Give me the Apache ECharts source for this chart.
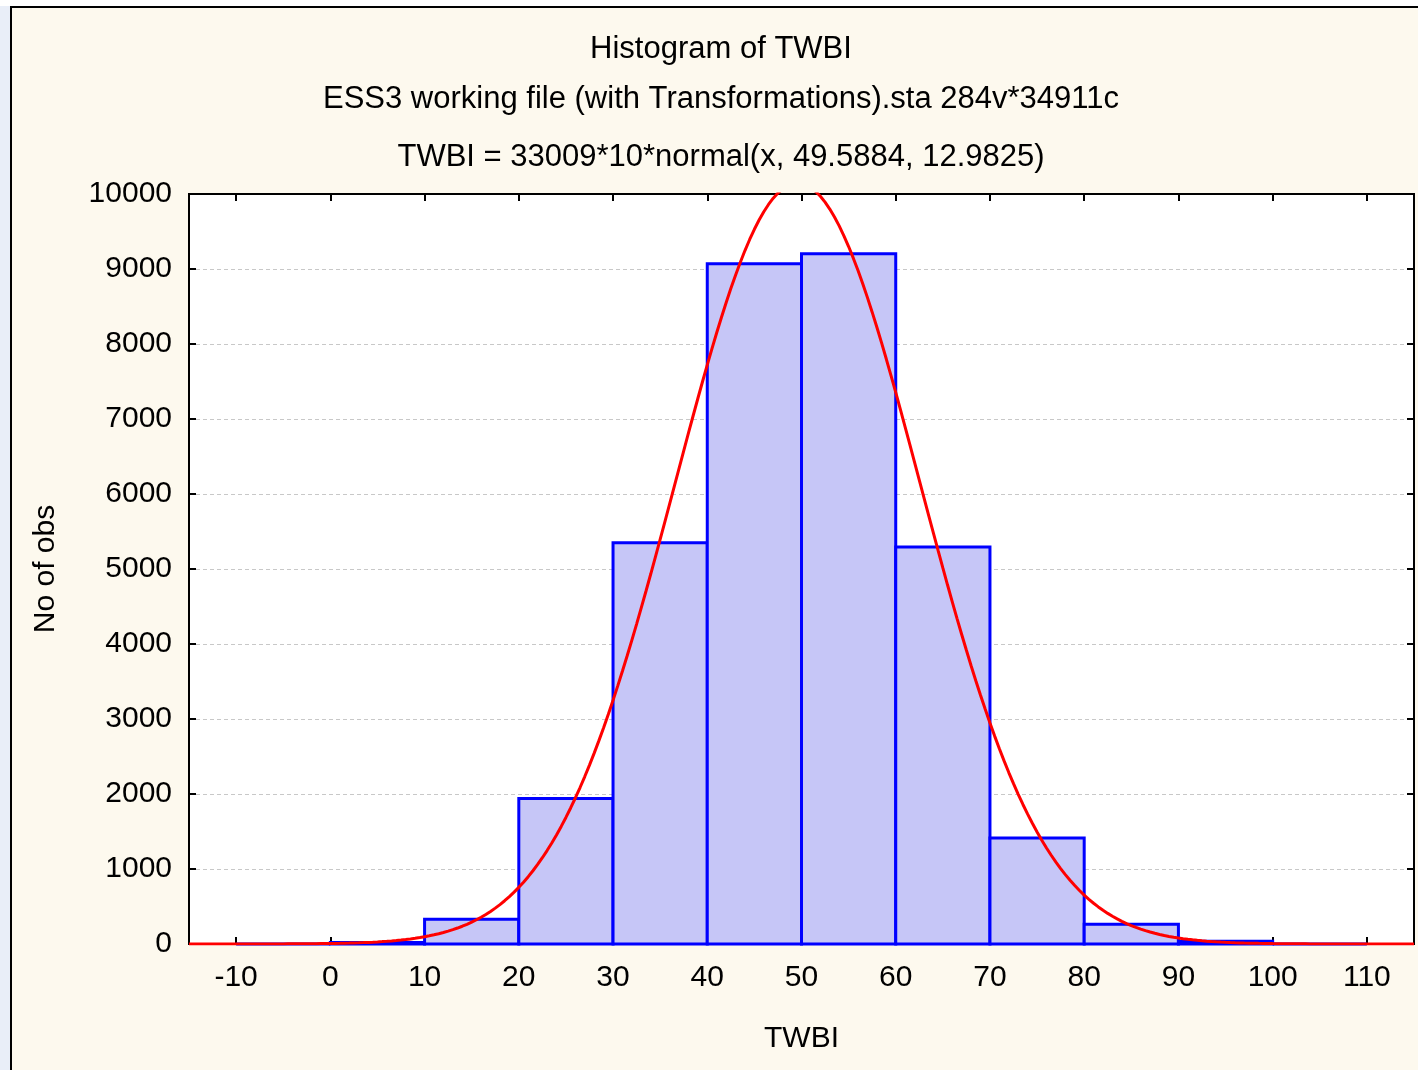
<!DOCTYPE html>
<html>
<head>
<meta charset="utf-8">
<script src="https://cdn.jsdelivr.net/npm/echarts@6/dist/echarts.min.js"></script>
<style>
html,body{margin:0;padding:0;background:#ffffff;}
#chart{width:1418px;height:1070px;}
</style>
</head>
<body>
<div id="chart"></div>
<script>
// ---- Data ----
var binStarts = [-10, 0, 10, 20, 30, 40, 50, 60, 70, 80, 90, 100];
var binEnds   = [0, 10, 20, 30, 40, 50, 60, 70, 80, 90, 100, 110];
var binCounts = [0, 20, 330, 1940, 5350, 9070, 9205, 5295, 1415, 265, 38, 0];
var xTickValues = [-10, 0, 10, 20, 30, 40, 50, 60, 70, 80, 90, 100, 110];
var yTickValues = [0, 1000, 2000, 3000, 4000, 5000, 6000, 7000, 8000, 9000, 10000];
var titleLines = [
  'Histogram of TWBI',
  'ESS3 working file (with Transformations).sta 284v*34911c',
  'TWBI = 33009*10*normal(x, 49.5884, 12.9825)'
];
// fitted normal curve parameters, as stated in the chart title
var fitN = 33009, fitBinWidth = 10, fitMean = 49.5884, fitSd = 12.9825;

var histData = binStarts.map(function(s, i){ return [s, binEnds[i], binCounts[i]]; });
var curveData = [];
for (var x = -15; x <= 115.0001; x += 0.5) {
  var z = (x - fitMean) / fitSd;
  curveData.push([x, fitN * fitBinWidth * Math.exp(-0.5 * z * z) / (fitSd * Math.sqrt(2 * Math.PI))]);
}

var FONT = '"Liberation Sans", Arial, sans-serif';
var chart = echarts.init(document.getElementById('chart'), null, {renderer: 'canvas'});
var titleY = [47, 97, 155];

var tickStyle = {show: true, inside: true, length: 7, lineStyle: {color: '#000', width: 2}};

var option = {
  backgroundColor: '#fdf9ee',
  animation: false,
  title: titleLines.map(function(t, i){
    return {text: t, left: 721, top: titleY[i] - 15, padding: 0, textAlign: 'center',
      textStyle: {fontFamily: FONT, fontSize: 31, fontWeight: 'normal', color: '#000', lineHeight: 34}};
  }),
  graphic: [
    {type: 'rect', shape: {x: 0, y: 0, width: 10, height: 1070}, style: {fill: '#e9eef8'}, silent: true},
    {type: 'rect', shape: {x: 0, y: 0, width: 1418, height: 6}, style: {fill: '#ffffff'}, silent: true},
    {type: 'polyline', shape: {points: [[11, 1070], [11, 7], [1418, 7]]}, style: {stroke: '#000', lineWidth: 2, fill: null}, silent: true}
  ],
  grid: {left: 189, top: 194, right: 4, bottom: 126, show: true, backgroundColor: '#ffffff', borderColor: '#000', borderWidth: 2, containLabel: false},
  xAxis: [
    {
      type: 'value', min: -15, max: 115, position: 'bottom',
      name: 'TWBI', nameLocation: 'middle', nameGap: 80,
      nameTextStyle: {fontFamily: FONT, fontSize: 30, color: '#000'},
      axisLine: {show: true, onZero: false, lineStyle: {color: '#000', width: 2}},
      axisTick: Object.assign({customValues: xTickValues}, tickStyle),
      axisLabel: {customValues: xTickValues, margin: 19, fontFamily: FONT, fontSize: 30, color: '#000'},
      splitLine: {show: false}
    },
    {
      type: 'value', min: -15, max: 115, position: 'top',
      axisLine: {show: true, onZero: false, lineStyle: {color: '#000', width: 2}},
      axisTick: Object.assign({customValues: xTickValues}, tickStyle),
      axisLabel: {show: false},
      splitLine: {show: false}
    }
  ],
  yAxis: [
    {
      type: 'value', min: 0, max: 10000, interval: 1000, position: 'left',
      name: 'No of obs', nameLocation: 'middle', nameGap: 128,
      nameTextStyle: {fontFamily: FONT, fontSize: 30, color: '#000'},
      axisLine: {show: true, onZero: false, lineStyle: {color: '#000', width: 2}},
      axisTick: tickStyle,
      axisLabel: {margin: 17, fontFamily: FONT, fontSize: 30, color: '#000',
        formatter: function(v){ return String(v); }},
      splitLine: {show: true, lineStyle: {color: '#c8c8c8', width: 1, type: [4, 3]}}
    },
    {
      type: 'value', min: 0, max: 10000, interval: 1000, position: 'right',
      axisLine: {show: true, onZero: false, lineStyle: {color: '#000', width: 2}},
      axisTick: tickStyle,
      axisLabel: {show: false},
      splitLine: {show: false}
    }
  ],
  series: [
    {
      type: 'custom', xAxisIndex: 0, yAxisIndex: 0, z: 2,
      encode: {x: [0, 1], y: 2},
      data: histData,
      renderItem: function(params, api){
        var p0 = api.coord([api.value(0), api.value(2)]);
        var p1 = api.coord([api.value(1), 0]);
        return {type: 'rect',
          shape: {x: p0[0], y: p0[1], width: p1[0] - p0[0], height: p1[1] - p0[1]},
          style: {fill: '#c6c6f7', stroke: '#0000ff', lineWidth: 3}};
      }
    },
    {
      type: 'line', xAxisIndex: 0, yAxisIndex: 0, z: 5,
      data: curveData, showSymbol: false, symbol: 'none', smooth: false, clip: true,
      lineStyle: {color: '#ff0000', width: 3}
    }
  ]
};
chart.setOption(option);
</script>
</body>
</html>
